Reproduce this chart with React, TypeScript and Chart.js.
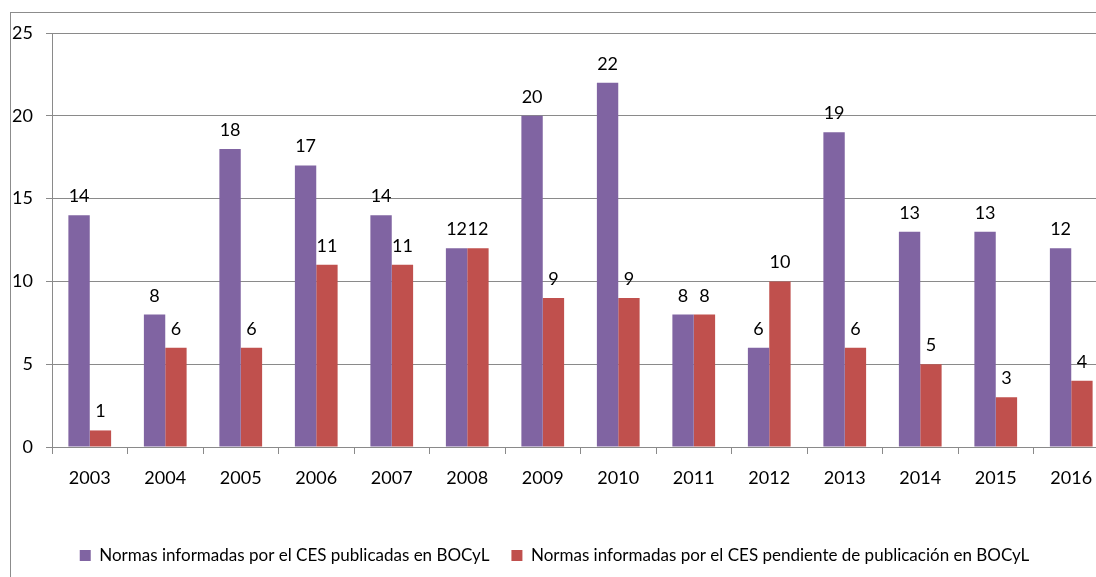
import React, { useEffect, useRef } from "react";
import { Chart, registerables } from "chart.js";

Chart.register(...registerables);

const years = ["2003", "2004", "2005", "2006", "2007", "2008", "2009", "2010", "2011", "2012", "2013", "2014", "2015", "2016"];
const publicadas = [14, 8, 18, 17, 14, 12, 20, 22, 8, 6, 19, 13, 13, 12];
const pendientes = [1, 6, 6, 11, 11, 12, 9, 9, 8, 10, 6, 5, 3, 4];
const serieNames = [
  "Normas informadas por el CES publicadas en BOCyL",
  "Normas informadas por el CES pendiente de publicación en BOCyL",
];
const yTicks = [0, 5, 10, 15, 20, 25];

const FONT = "Lato, 'Open Sans', sans-serif";
const GRID = "#8a8a8a";

const valueLabels = {
  id: "valueLabels",
  afterDatasetsDraw(chart: any) {
    const ctx = chart.ctx;
    ctx.save();
    ctx.font = `18px ${FONT}`;
    ctx.fillStyle = "#000";
    ctx.textAlign = "center";
    ctx.textBaseline = "alphabetic";
    chart.data.datasets.forEach((ds: any, i: number) => {
      const meta = chart.getDatasetMeta(i);
      meta.data.forEach((bar: any, j: number) => {
        ctx.fillText(String(ds.data[j]), bar.x, bar.y - 13);
      });
    });
    ctx.restore();
  },
};

export default function App() {
  const ref = useRef<HTMLCanvasElement>(null);
  useEffect(() => {
    const chart = new Chart(ref.current!, {
      type: "bar",
      data: {
        labels: years,
        datasets: [
          { label: serieNames[0], data: publicadas, backgroundColor: "#8064A2" },
          { label: serieNames[1], data: pendientes, backgroundColor: "#C0504D" },
        ],
      },
      options: {
        responsive: false,
        animation: false,
        devicePixelRatio: 1,
        layout: { padding: { left: 0, right: 15, top: 33, bottom: 3 } },
        datasets: { bar: { categoryPercentage: 0.566, barPercentage: 1 } },
        plugins: {
          tooltip: { enabled: false },
          legend: {
            position: "bottom",
            labels: {
              font: { family: FONT, size: 17 },
              color: "#000",
              boxWidth: 11,
              boxHeight: 11,
              padding: 22,
            },
          },
        },
        scales: {
          x: {
            afterFit: (s: any) => { s.height = 78; },
            offset: true,
            grid: {
              offset: true,
              drawOnChartArea: false,
              drawTicks: true,
              tickLength: 7,
              color: GRID,
            },
            border: { color: GRID, width: 1 },
            ticks: { font: { family: FONT, size: 18 }, color: "#000", padding: 13 },
          },
          y: {
            min: 0,
            max: 25,
            afterFit: (s: any) => { s.width = 52; },
            afterBuildTicks: (s: any) => { s.ticks = yTicks.map((v) => ({ value: v })); },
            grid: { color: GRID, tickLength: 6, drawTicks: true },
            border: { color: GRID, width: 1 },
            ticks: { font: { family: FONT, size: 18 }, color: "#000", padding: 13, stepSize: 5 },
          },
        },
      },
      plugins: [valueLabels],
    });
    return () => chart.destroy();
  }, []);
  return (
    <div style={{ position: "fixed", left: 0, top: 0, width: 1096, height: 577, overflow: "hidden", background: "#fff" }}>
      <div style={{ position: "absolute", left: 10, top: 12, width: 1200, height: 700, border: "1px solid #8c8c8c" }} />
      <canvas ref={ref} width={1124} height={577} style={{ position: "absolute", left: 0, top: 0, width: 1124, height: 577 }} />
    </div>
  );
}
